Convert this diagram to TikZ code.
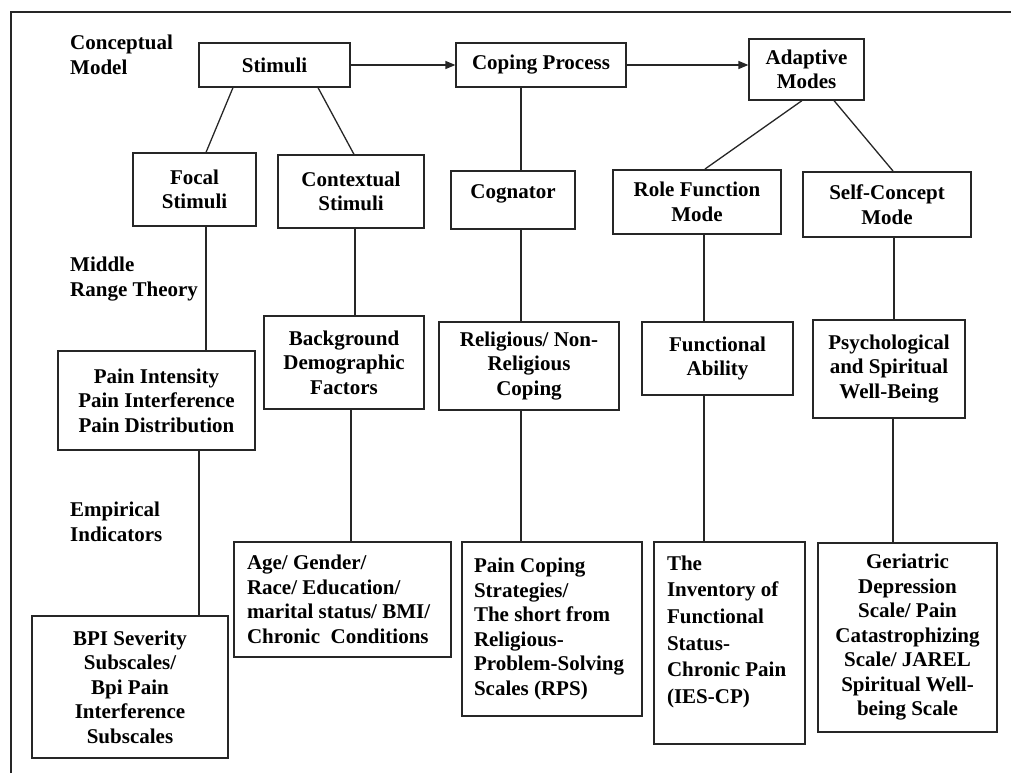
\documentclass[tikz,border=0pt]{standalone}
\usepackage{fontspec}
\setmainfont{Liberation Serif}
\usetikzlibrary{arrows.meta}

\begin{document}
\begin{tikzpicture}[x=1pt, y=-1pt,
  font=\fontsize{21}{24.5}\selectfont\bfseries,
  box/.style={draw=black!85, line width=1.2pt, align=center, inner sep=0pt},
  thickbox/.style={box, line width=2pt},
  leftbox/.style={box, align=flush left, inner xsep=13pt},
  link/.style={draw=black!85, line width=1.3pt}]

\useasboundingbox (0,0) rectangle (1011,773);
\draw[line width=1.8pt, black!85] (11,773) -- (11,12) -- (1011,12);

\node[anchor=west, align=left, inner sep=0pt] (level_0_text) at (70,55) {Conceptual\\Model};
\node[anchor=west, align=left, inner sep=0pt] (level_1_text) at (70,279) {Middle\\Range Theory};
\node[anchor=west, align=left, inner sep=0pt] (level_2_text) at (70,522) {Empirical\\Indicators};

\node[box, minimum width=151pt, minimum height=44pt] (stimuli_box) at (274.5,65) {Stimuli};
\node[box, minimum width=170pt, minimum height=44pt] (coping_box) at (541,65) {Coping Process};
\node[box, minimum width=115pt, minimum height=61pt] (adaptive_box) at (806.5,69.5) {Adaptive\\Modes};

\node[box, minimum width=123pt, minimum height=73pt] (focal_box) at (194.5,189.5) {Focal\\Stimuli};
\node[box, minimum width=146pt, minimum height=73pt] (contextual_box) at (351,191.5) {Contextual\\Stimuli};
\node[thickbox, minimum width=124pt, minimum height=58pt] (cognator_box) at (513,200) {Cognator\\[-8pt]\mbox{}};
\node[thickbox, minimum width=168pt, minimum height=64pt] (role_box) at (697,202) {Role Function\\Mode};
\node[thickbox, minimum width=168pt, minimum height=65pt] (self_box) at (887,204.5) {Self-Concept\\Mode};

\node[box, minimum width=197pt, minimum height=99pt] (pain_box) at (156.5,400.5) {Pain Intensity\\Pain Interference\\Pain Distribution};
\node[box, minimum width=160pt, minimum height=93pt] (background_box) at (344,362.5) {Background\\Demographic\\Factors};
\node[box, minimum width=180pt, minimum height=88pt] (religious_box) at (529,366) {Religious/ Non-\\Religious\\Coping};
\node[box, minimum width=151pt, minimum height=73pt] (functional_box) at (717.5,358.5) {Functional\\Ability};
\node[box, minimum width=152pt, minimum height=98pt] (psych_box) at (889,369) {Psychological\\and Spiritual\\Well-Being};

\node[box, minimum width=196pt, minimum height=142pt] (bpi_box) at (130,687) {BPI Severity\\Subscales/\\ Bpi Pain\\Interference\\Subscales};
\node[leftbox, text width=191pt, minimum height=115pt] (age_box) at (342.5,599.5) {Age/ Gender/\\Race/ Education/\\marital status/ BMI/\\Chronic \ Conditions};
\node[leftbox, text width=156pt, inner xsep=12pt, minimum height=174pt] (pcs_box) at (552,629) {Pain Coping\\Strategies/\\The short from\\Religious-\\Problem-Solving\\Scales (RPS)};
\node[leftbox, text width=125pt, minimum height=202pt, font=\fontsize{21}{26.7}\selectfont\bfseries] (inventory_box) at (729.5,643) {The\\Inventory of\\Functional\\Status-\\Chronic Pain\\(IES-CP)\\\mbox{}};
\node[box, minimum width=179pt, minimum height=189pt] (geriatric_box) at (907.5,637.5) {Geriatric\\Depression\\Scale/ Pain\\Catastrophizing\\Scale/ JAREL\\Spiritual Well-\\being Scale};

% top row
\draw[link, -{Triangle[length=10pt,width=8pt]}] (stimuli_box) -- (coping_box);
\draw[link, -{Triangle[length=10pt,width=8pt]}] (coping_box.east) -- (coping_box.east -| adaptive_box.west);

% conceptual model
\draw[link] ([xshift=-41.5pt]stimuli_box.south) -- ([xshift=11.5pt]focal_box.north);
\draw[link] ([xshift=43.5pt]stimuli_box.south) -- ([xshift=3pt]contextual_box.north);
\draw[link] ([xshift=-20pt]coping_box.south) -- ([xshift=8pt]cognator_box.north);
\draw[link] ([xshift=-4.5pt]adaptive_box.south) -- ([xshift=8pt]role_box.north);
\draw[link] ([xshift=27.5pt]adaptive_box.south) -- ([xshift=6pt]self_box.north);

% middle range theory
\draw[link] ([xshift=11.5pt]focal_box.south) -- ([xshift=49.5pt]pain_box.north);
\draw[link] ([xshift=4pt]contextual_box.south) -- ([xshift=11pt]background_box.north);
\draw[link] ([xshift=8pt]cognator_box.south) -- ([xshift=-8pt]religious_box.north);
\draw[link] ([xshift=7pt]role_box.south) -- ([xshift=-13.5pt]functional_box.north);
\draw[link] ([xshift=7pt]self_box.south) -- ([xshift=5pt]psych_box.north);

% empirical indicators
\draw[link] ([xshift=42.5pt]pain_box.south) -- ([xshift=69pt]bpi_box.north);
\draw[link] ([xshift=7pt]background_box.south) -- ([xshift=8.5pt]age_box.north);
\draw[link] ([xshift=-8pt]religious_box.south) -- ([xshift=-31pt]pcs_box.north);
\draw[link] ([xshift=-13.5pt]functional_box.south) -- ([xshift=-25.5pt]inventory_box.north);
\draw[link] ([xshift=4pt]psych_box.south) -- ([xshift=-14.5pt]geriatric_box.north);

\end{tikzpicture}
\end{document}
